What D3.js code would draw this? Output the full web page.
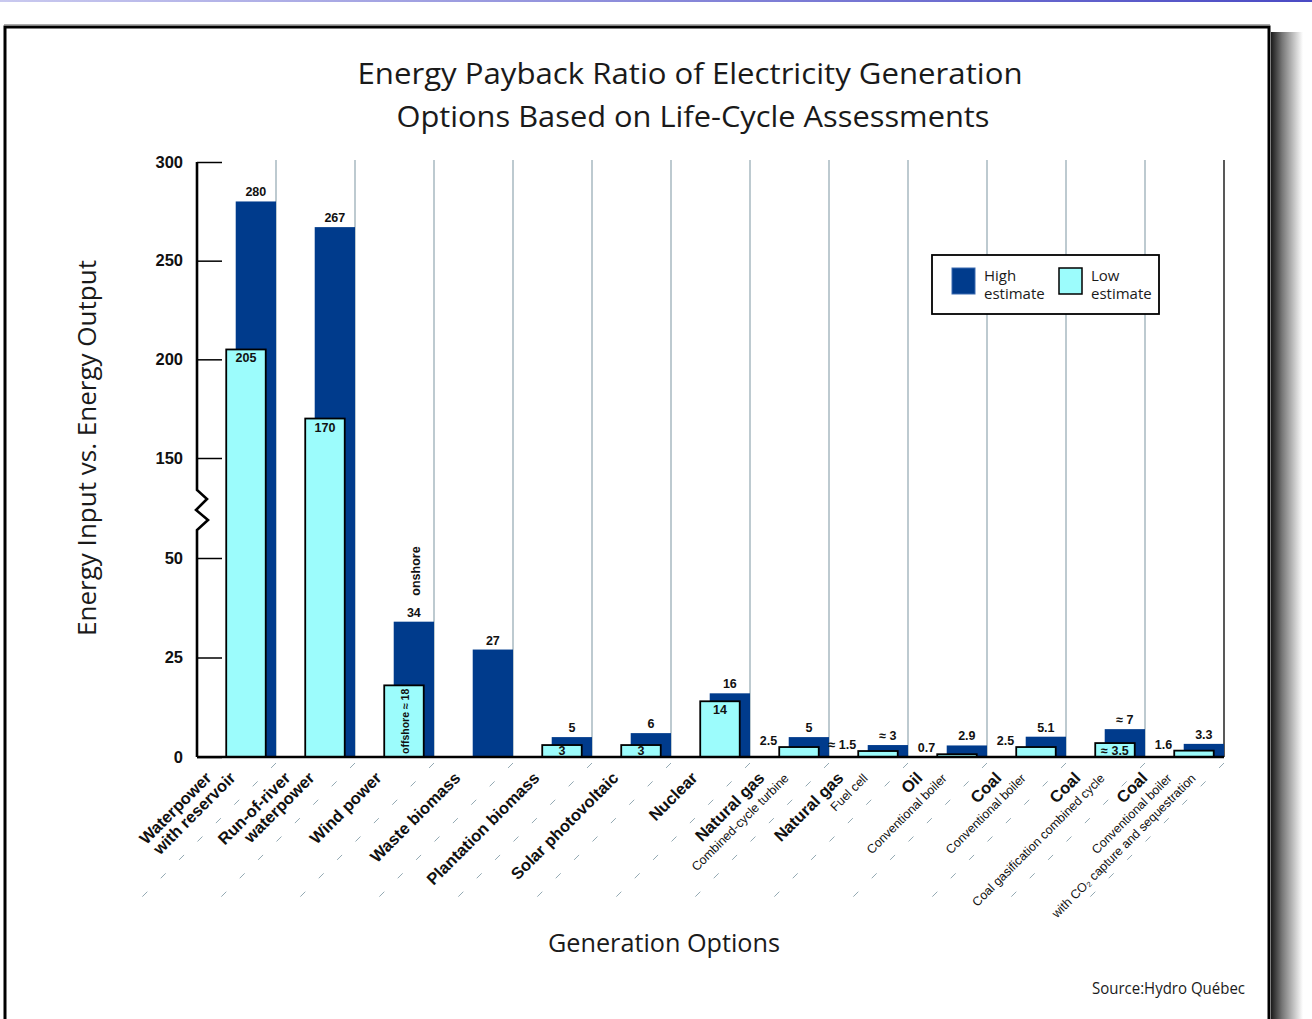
<!DOCTYPE html>
<html>
<head>
<meta charset="utf-8">
<script src="https://cdn.jsdelivr.net/npm/d3@7"></script>
<style>
  html, body { margin: 0; padding: 0; background: #fff; }
  svg { display: block; }
</style>
</head>
<body>
<script>
// ---------------- DATA ----------------
const mainLabels = [
  ["Waterpower", "with reservoir"],
  ["Run-of-river", "waterpower"],
  ["Wind power"],
  ["Waste biomass"],
  ["Plantation biomass"],
  ["Solar photovoltaic"],
  ["Nuclear"],
  ["Natural gas"],
  ["Natural gas"],
  ["Oil"],
  ["Coal"],
  ["Coal"],
  ["Coal"]
];
const subLabels = [
  [], [], [], [], [], [], [],
  ["Combined-cycle turbine"],
  ["Fuel cell"],
  ["Conventional boiler"],
  ["Conventional boiler"],
  ["Coal gasification combined cycle"],
  ["Conventional boiler", "with CO₂ capture and sequestration"]
];
const highValues = [280, 267, 34, 27, 5, 6, 16, 5, 3, 2.9, 5.1, 7, 3.3];
const lowValues  = [205, 170, 18, null, 3, 3, 14, 2.5, 1.5, 0.7, 2.5, 3.5, 1.6];
const highApprox = [false, false, false, false, false, false, false, false, true, false, false, true, false];
const lowApprox  = [false, false, true, false, false, false, false, false, true, false, false, true, false];
const highNotes  = [null, null, "onshore", null, null, null, null, null, null, null, null, null, null];
const lowNotes   = [null, null, "offshore", null, null, null, null, null, null, null, null, null, null];
const yTicks = [0, 25, 50, 150, 200, 250, 300];
const titleLines = ["Energy Payback Ratio of Electricity Generation", "Options Based on Life-Cycle Assessments"];
const yTitle = "Energy Input vs. Energy Output";
const xTitle = "Generation Options";
const sourceText = "Source:Hydro Québec";
const legendItems = [["High", "estimate"], ["Low", "estimate"]];

// ---------------- STYLE ----------------
const HIGH = "#003b8c", LOW = "#9cfcfc", GRID = "#a7b9c1";
const BOLD = "'Liberation Sans', Arial, sans-serif";
const MYR = "'Open Sans', 'Noto Sans', sans-serif";

const W = 1312, H = 1019;
const svg = d3.select("body").append("svg").attr("width", W).attr("height", H);
const defs = svg.append("defs");
const sg = defs.append("linearGradient").attr("id", "shadow").attr("x1", 0).attr("x2", 1).attr("y1", 0).attr("y2", 0);
sg.append("stop").attr("offset", 0).attr("stop-color", "#1a1a1a");
sg.append("stop").attr("offset", 0.35).attr("stop-color", "#777");
sg.append("stop").attr("offset", 1).attr("stop-color", "#fff");
const tg = defs.append("linearGradient").attr("id", "topline").attr("x1", 0).attr("x2", 1).attr("y1", 0).attr("y2", 0);
tg.append("stop").attr("offset", 0).attr("stop-color", "#c9c9ef");
tg.append("stop").attr("offset", 1).attr("stop-color", "#4a4ac4");

svg.append("rect").attr("width", W).attr("height", H).attr("fill", "#fff");
svg.append("rect").attr("x", 0).attr("y", 0).attr("width", W).attr("height", 2).attr("fill", "url(#topline)");
// frame shadow
svg.append("rect").attr("x", 1271).attr("y", 32).attr("width", 32).attr("height", H).attr("fill", "url(#shadow)");
svg.append("line").attr("x1", 4).attr("x2", 1270).attr("y1", 24.5).attr("y2", 24.5).attr("stroke", "#aaa").attr("stroke-width", 1);
svg.append("rect").attr("x", 5).attr("y", 27).attr("width", 1264).attr("height", H + 20)
  .attr("fill", "#fff").attr("stroke", "#000").attr("stroke-width", 3);

// ---------------- SCALES ----------------
const x = d3.scaleBand().domain(d3.range(highValues.length)).range([197, 1224]).padding(0);
const y = d3.scaleLinear().domain([0, 50, 150, 300]).range([757, 558, 458, 162]);
const bw = x.bandwidth();
const hiX = i => x(i) + bw * 0.49;
const hiW = bw * 0.51;
const loX = i => x(i) + bw * 0.37;
const loW = bw * 0.5;
const fmt = (v, a) => (a ? "≈ " : "") + String(v);

// ---------------- GRID ----------------
const g = svg.append("g");
g.selectAll("line.grid").data(d3.range(highValues.length - 1)).join("line")
  .attr("class", "grid")
  .attr("x1", i => x(i) + bw).attr("x2", i => x(i) + bw)
  .attr("y1", y(300) - 2).attr("y2", y(0))
  .attr("stroke", GRID).attr("stroke-width", 1.5);
g.append("line").attr("x1", x.range()[1]).attr("x2", x.range()[1])
  .attr("y1", y(300) - 2).attr("y2", y(0)).attr("stroke", "#222").attr("stroke-width", 1.5);

// diagonal dashed decorations under the axis
g.selectAll("line.deco").data(d3.range(highValues.length)).join("line")
  .attr("class", "deco")
  .attr("x1", i => x(i) + bw).attr("y1", y(0) + 6)
  .attr("x2", i => x(i) + bw - 136).attr("y2", y(0) + 142)
  .attr("stroke", "#93a9b3").attr("stroke-width", 1).attr("stroke-dasharray", "7,19");

// ---------------- BARS ----------------
g.selectAll("rect.high").data(highValues).join("rect")
  .attr("class", "high")
  .attr("x", (d, i) => hiX(i)).attr("width", hiW)
  .attr("y", d => y(d)).attr("height", d => y(0) - y(d))
  .attr("fill", HIGH);

const lowData = lowValues.map((v, i) => ({ v, i })).filter(d => d.v != null);
g.selectAll("rect.low").data(lowData).join("rect")
  .attr("class", "low")
  .attr("x", d => loX(d.i)).attr("width", loW)
  .attr("y", d => y(d.v)).attr("height", d => y(0) - y(d.v))
  .attr("fill", LOW).attr("stroke", "#000").attr("stroke-width", 1.8);

// axes lines
g.append("path").attr("d", `M${x.range()[0]},${y(0)}H${x.range()[1]}`)
  .attr("stroke", "#000").attr("stroke-width", 2.6).attr("fill", "none");

const yAxis = d3.axisLeft(y).tickValues(yTicks).tickSizeInner(-25).tickSizeOuter(0).tickPadding(14).tickFormat(d => d);
const ya = svg.append("g").attr("transform", `translate(${x.range()[0]},0)`).call(yAxis);
ya.select(".domain").remove();
ya.selectAll(".tick line").attr("stroke", "#000").attr("stroke-width", 1.5);
ya.selectAll(".tick text").attr("font-family", BOLD).attr("font-weight", "bold")
  .attr("font-size", 16.5).attr("fill", "#111");
const x0 = x.range()[0];
svg.append("path")
  .attr("d", `M${x0},${y(300)}V${y(150) + 32}l10,9l-11,11l12,10l-11,10V${y(0)}`)
  .attr("stroke", "#000").attr("stroke-width", 2.6).attr("fill", "none").attr("stroke-linejoin", "miter");

// ---------------- VALUE LABELS ----------------
const lab = svg.append("g").attr("font-family", BOLD).attr("font-weight", "bold").attr("font-size", 12.5).attr("fill", "#111");
lab.selectAll("text.hv").data(highValues).join("text")
  .attr("class", "hv")
  .attr("x", (d, i) => hiX(i) + hiW / 2).attr("y", d => y(d) - 5)
  .attr("text-anchor", "middle")
  .text((d, i) => fmt(d, highApprox[i]));

highNotes.forEach((n, i) => {
  if (!n) return;
  lab.append("text")
    .attr("transform", `translate(${hiX(i) + hiW / 2 + 6},${y(highValues[i]) - 26}) rotate(-90)`)
    .text(n);
});

lowData.forEach(d => {
  const i = d.i, v = d.v, t = fmt(v, lowApprox[i]);
  if (lowNotes[i]) {
    lab.append("text")
      .attr("font-size", 10.5)
      .attr("transform", `translate(${loX(i) + loW / 2 + 5},${y(0) - 3}) rotate(-90)`)
      .text(lowNotes[i] + " " + t);
  } else if (v >= 3) {
    lab.append("text").attr("text-anchor", "middle")
      .attr("x", loX(i) + loW / 2).attr("y", Math.min(y(v) + 13, y(0) - 2))
      .text(t);
  } else {
    lab.append("text").attr("text-anchor", "end")
      .attr("x", loX(i) - 2).attr("y", y(v) - 2)
      .text(t);
  }
});

// ---------------- CATEGORY LABELS ----------------
const cat = svg.append("g").attr("fill", "#111");
mainLabels.forEach((m, i) => {
  const lines = m.map(t => ({ t, main: true })).concat(subLabels[i].map(t => ({ t, main: false })));
  const n = lines.length;
  const cx = x(i) + bw / 2 - 12;
  lines.forEach((L, j) => {
    const px = cx + (j - (n - 1) / 2) * 24;
    const py = 779;
    cat.append("text")
      .attr("transform", `translate(${px},${py}) rotate(-45)`)
      .attr("text-anchor", "end")
      .attr("font-family", BOLD)
      .attr("font-weight", L.main ? "bold" : "normal")
      .attr("font-size", L.main ? 16.5 : 12.5)
      .text(L.t);
  });
});

// ---------------- TITLES ----------------
const tl = [[690, 84, 665], [693, 127, 593]];
titleLines.forEach((t, k) => {
  svg.append("text").attr("x", tl[k][0]).attr("y", tl[k][1])
    .attr("text-anchor", "middle").attr("font-family", MYR).attr("font-size", 30).attr("fill", "#1a1a1a")
    .attr("textLength", tl[k][2]).attr("lengthAdjust", "spacingAndGlyphs")
    .text(t);
});
svg.append("text").attr("transform", "translate(96,448) rotate(-90)")
  .attr("text-anchor", "middle").attr("font-family", MYR).attr("font-size", 26).attr("fill", "#1a1a1a")
  .attr("textLength", 376).attr("lengthAdjust", "spacingAndGlyphs")
  .text(yTitle);
svg.append("text").attr("x", 664).attr("y", 952)
  .attr("text-anchor", "middle").attr("font-family", MYR).attr("font-size", 25).attr("fill", "#1a1a1a")
  .attr("textLength", 232).attr("lengthAdjust", "spacingAndGlyphs")
  .text(xTitle);
svg.append("text").attr("x", 1245).attr("y", 994)
  .attr("text-anchor", "end").attr("font-family", MYR).attr("font-size", 15.5).attr("fill", "#1a1a1a")
  .attr("textLength", 153).attr("lengthAdjust", "spacingAndGlyphs")
  .text(sourceText);

// ---------------- LEGEND ----------------
const lg = svg.append("g").attr("transform", "translate(932,255)");
lg.append("rect").attr("width", 227).attr("height", 59).attr("fill", "#fff").attr("stroke", "#000").attr("stroke-width", 1.8);
const lfill = [HIGH, LOW];
legendItems.forEach((it, k) => {
  const ox = 20 + k * 107;
  lg.append("rect").attr("x", ox).attr("y", 13).attr("width", 23).attr("height", 26)
    .attr("fill", lfill[k]).attr("stroke", k ? "#000" : "#3a6ab0").attr("stroke-width", k ? 1.5 : 1);
  const tx = lg.append("text").attr("font-family", MYR).attr("font-size", 15).attr("fill", "#1a1a1a");
  it.forEach((t, j) => {
    tx.append("tspan").attr("x", ox + 32).attr("y", 26 + j * 18).text(t);
  });
});
</script>
</body>
</html>
